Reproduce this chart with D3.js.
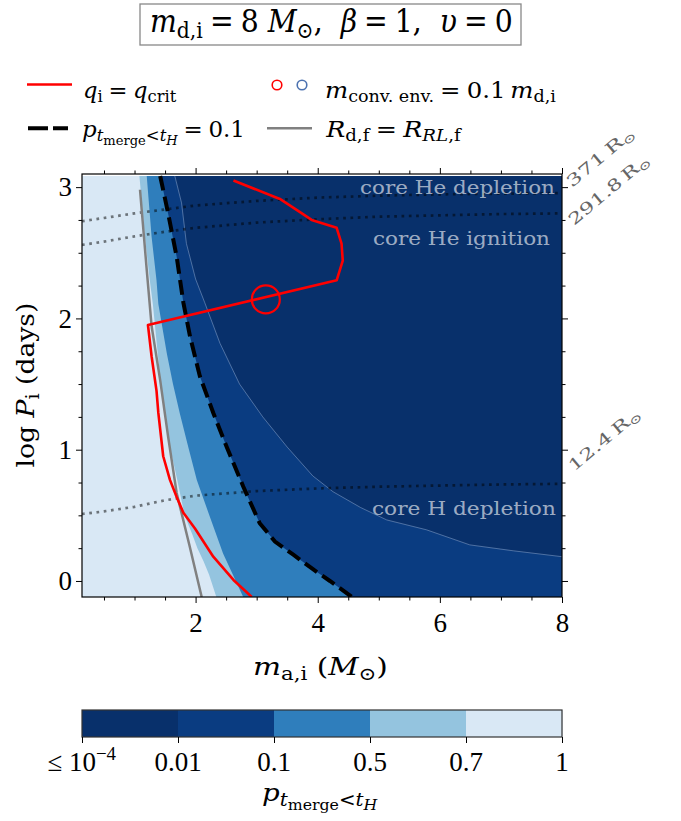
<!DOCTYPE html>
<html><head><meta charset="utf-8">
<script src="https://cdn.jsdelivr.net/npm/d3@7"></script>
<style>body{margin:0;background:#fff} svg{display:block}</style>
</head><body><svg id="c" width="681" height="821"></svg>
<script>
// ---------------- data ----------------
const xDomain = [0.14, 8];
const yDomain = [-0.122, 3.1];
const fillTopLogP = 3.085;
const xMajorTicks = [2, 4, 6, 8];
const xMinorTicks = [0.5, 1, 1.5, 2.5, 3, 3.5, 4.5, 5, 5.5, 6.5, 7, 7.5];
const yMajorTicks = [0, 1, 2, 3];
const yMinorTicks = [0.25, 0.5, 0.75, 1.25, 1.5, 1.75, 2.25, 2.5, 2.75];
const cbColors = ["#08306b", "#0a3c81", "#2f7ebc", "#94c4df", "#d9e8f5"];
const cbTickLabels = ["≤ 10^-4", "0.01", "0.1", "0.5", "0.7", "1"];
// contour boundaries [m_a,i, log P_i], from top to bottom
const boundaryP07 = [[1.08,3.085],[1.17,2.62],[1.25,2.29],[1.30,2.11],[1.44,1.45],[1.58,1.02],[1.70,0.77],[1.82,0.5],[1.95,0.35],[2.03,0.25],[2.13,0.15],[2.22,0.05],[2.34,-0.122]];
const boundaryP05 = [[1.20,3.085],[1.28,2.62],[1.36,2.29],[1.39,2.11],[1.53,1.73],[1.63,1.50],[1.74,1.28],[1.88,1.02],[2.02,0.77],[2.21,0.52],[2.45,0.21],[2.78,-0.122]];
const boundaryP01 = [[1.42,3.085],[1.45,3.02],[1.55,2.80],[1.69,2.47],[1.80,2.12],[1.91,1.86],[2.07,1.56],[2.29,1.28],[2.51,1.02],[2.78,0.72],[3.05,0.44],[3.30,0.30],[3.60,0.20],[3.95,0.08],[4.2,0.0],[4.56,-0.122]];
const boundaryP001 = [[1.66,3.085],[1.77,2.88],[1.85,2.57],[2.0,2.3],[2.15,2.12],[2.40,1.81],[2.72,1.50],[3.10,1.25],[3.50,1.02],[3.92,0.80],[4.25,0.68],[4.70,0.56],[5.13,0.465],[5.78,0.39],[6.49,0.275],[7.20,0.23],[8.0,0.185]];
const qCritLine = [[2.62,3.05],[3.38,2.91],[3.71,2.81],[3.90,2.75],[4.31,2.69],[4.39,2.57],[4.41,2.44],[4.31,2.29],[1.22,1.95],[1.28,1.71],[1.36,1.45],[1.39,1.28],[1.47,0.95],[1.58,0.77],[1.69,0.64],[1.80,0.52],[1.99,0.40],[2.29,0.185],[2.62,0.008],[2.92,-0.122]];
const convEnvMarker = [3.15, 2.145];
const rocheFillLine = [[1.09,2.98],[1.20,2.37],[1.28,1.94],[1.42,1.53],[1.55,1.1],[1.69,0.67],[1.9,0.27],[2.10,-0.122]];
const radius371 = [[0.14,2.74],[0.5,2.765],[1,2.80],[1.5,2.83],[2,2.86],[3,2.895],[4,2.92],[5,2.935],[6,2.945],[7,2.95],[8,2.955]];
const radius291 = [[0.14,2.56],[0.5,2.585],[1,2.625],[1.5,2.66],[2,2.69],[3,2.73],[4,2.755],[5,2.775],[6,2.785],[7,2.795],[8,2.80]];
const radius12 = [[0.14,0.51],[0.5,0.53],[1,0.565],[1.5,0.615],[2,0.65],[3,0.685],[4,0.705],[5,0.718],[6,0.727],[7,0.735],[8,0.74]];
const radiusLabels = ["371", "291.8", "12.4"];
const phaseLabels = ["core He depletion", "core He ignition", "core H depletion"];

// ---------------- drawing ----------------
const FONT = "'DejaVu Serif', 'Liberation Serif', serif";
const NUMFONT = "'Liberation Serif', 'DejaVu Serif', serif";
const svg = d3.select("#c");
const x = d3.scaleLinear().domain(xDomain).range([82, 562]);
const y = d3.scaleLinear().domain(yDomain).range([597, 174]);
const line = d3.line().x(d => x(d[0])).y(d => y(d[1]));
const poly = pts => line(pts) + "Z";
const [xmin, xmax] = xDomain, ymin = yDomain[0];

svg.append("clipPath").attr("id", "clip").append("rect")
  .attr("x", x(xmin)).attr("y", y(yDomain[1])).attr("width", x(xmax) - x(xmin)).attr("height", y(ymin) - y(yDomain[1]));
const g = svg.append("g").attr("clip-path", "url(#clip)");

g.append("path").attr("d", poly([[xmin,fillTopLogP],[xmax,fillTopLogP],[xmax,ymin],[xmin,ymin]])).attr("fill", cbColors[4]);
[[boundaryP07,3],[boundaryP05,2],[boundaryP01,1]].forEach(([b, ci]) => {
  g.append("path").attr("d", poly([...b, [xmax,ymin], [xmax,fillTopLogP]])).attr("fill", cbColors[ci]);
});
g.append("path").attr("d", poly([...boundaryP001, [xmax,fillTopLogP]])).attr("fill", cbColors[0]);
g.append("path").attr("d", line(boundaryP001)).attr("fill", "none").attr("stroke", "#9db3d8").attr("stroke-width", 0.6).attr("opacity", 0.8);

[radius371, radius291, radius12].forEach(r => {
  g.append("path").attr("d", line(r)).attr("fill", "none").attr("stroke", "#000").attr("stroke-opacity", 0.5)
    .attr("stroke-width", 2.7).attr("stroke-dasharray", "2.7,4.6");
});
g.append("path").attr("d", line(rocheFillLine)).attr("fill", "none").attr("stroke", "#808080").attr("stroke-width", 2.5);
g.append("path").attr("d", line(boundaryP01)).attr("fill", "none").attr("stroke", "#000").attr("stroke-width", 4).attr("stroke-dasharray", "14.8,6.4");
g.append("path").attr("d", line(qCritLine)).attr("fill", "none").attr("stroke", "#ff0000").attr("stroke-width", 2.6).attr("stroke-linejoin", "round");
g.append("circle").attr("cx", x(convEnvMarker[0])).attr("cy", y(convEnvMarker[1])).attr("r", 14)
  .attr("fill", "none").attr("stroke", "#ff0000").attr("stroke-width", 2.2);

// rich text helper: fits to a target width by horizontal scaling
const LV = {0:{s:1,sh:0}, 1:{s:0.72,sh:0.2}, 2:{s:0.57,sh:0.36}, "-1":{s:0.7,sh:-0.4}};
function rich(parent, segs, fs, px, py, opts = {}) {
  const grp = parent.append("g");
  const t = grp.append("text").attr("font-family", opts.font || FONT).attr("font-size", fs)
    .attr("fill", opts.fill || "#000").style("white-space", "pre");
  if (opts.opacity != null) t.attr("fill-opacity", opts.opacity);
  let prev = 0;
  segs.forEach(sg => {
    const L = LV[sg.l || 0];
    const shift = L.sh * fs;
    t.append("tspan").text(sg.t).attr("font-size", fs * L.s)
      .attr("font-style", sg.i ? "italic" : "normal").attr("dy", shift - prev);
    prev = shift;
  });
  const bb = t.node().getBBox();
  const s = opts.width ? opts.width / bb.width : 1;
  const off = opts.anchor === "middle" ? bb.x + bb.width / 2 : opts.anchor === "end" ? bb.x + bb.width : bb.x;
  grp.attr("transform", `translate(${px},${py}) rotate(${opts.rotate || 0}) scale(${s},1) translate(${-off},0)`);
  return grp;
}
const T = (t, i = false, l = 0) => ({t, i, l});
const EQ = "\u2005=\u2005";

// phase labels
rich(svg, [T(phaseLabels[0])], 19, 555, 194, {width: 195, anchor: "end", fill: "#fff", opacity: 0.62});
rich(svg, [T(phaseLabels[1])], 19, 550, 245, {width: 177, anchor: "end", fill: "#fff", opacity: 0.62});
rich(svg, [T(phaseLabels[2])], 19, 556, 515, {width: 184, anchor: "end", fill: "#fff", opacity: 0.62});

// border
svg.append("rect").attr("x", x(xmin)).attr("y", y(yDomain[1])).attr("width", x(xmax) - x(xmin)).attr("height", y(ymin) - y(yDomain[1]))
  .attr("fill", "none").attr("stroke", "#000").attr("stroke-width", 1.2);

// axes
function styleAxis(sel) {
  sel.select(".domain").remove();
  sel.selectAll("line").attr("stroke", "#000").attr("stroke-width", 1);
  sel.selectAll("text").attr("font-family", NUMFONT).attr("font-size", 27).attr("fill", "#000");
}
svg.append("g").attr("transform", `translate(0,${y(ymin)})`).call(d3.axisBottom(x).tickValues(xMajorTicks).tickSize(6).tickPadding(10).tickFormat(d3.format("d"))).call(styleAxis);
svg.append("g").attr("transform", `translate(0,${y(ymin)})`).call(d3.axisBottom(x).tickValues(xMinorTicks).tickSize(3.5).tickFormat("")).call(styleAxis);
svg.append("g").attr("transform", `translate(0,${y(yDomain[1])})`).call(d3.axisTop(x).tickValues(xMajorTicks).tickSize(6).tickFormat("")).call(styleAxis);
svg.append("g").attr("transform", `translate(0,${y(yDomain[1])})`).call(d3.axisTop(x).tickValues(xMinorTicks).tickSize(3.5).tickFormat("")).call(styleAxis);
svg.append("g").attr("transform", `translate(${x(xmin)},0)`).call(d3.axisLeft(y).tickValues(yMajorTicks).tickSize(6).tickPadding(4).tickFormat(d3.format("d"))).call(styleAxis);
svg.append("g").attr("transform", `translate(${x(xmin)},0)`).call(d3.axisLeft(y).tickValues(yMinorTicks).tickSize(3.5).tickFormat("")).call(styleAxis);
svg.append("g").attr("transform", `translate(${x(xmax)},0)`).call(d3.axisRight(y).tickValues(yMajorTicks).tickSize(6).tickFormat("")).call(styleAxis);
svg.append("g").attr("transform", `translate(${x(xmax)},0)`).call(d3.axisRight(y).tickValues(yMinorTicks).tickSize(3.5).tickFormat("")).call(styleAxis);

// axis labels
rich(svg, [T("m",true), T("a,i",false,1), T(" (",false), T("M",true), T("⊙",false,1), T(")",false)], 25, 253, 675, {width: 135});
rich(svg, [T("log ",false), T("P",true), T("i",false,1), T(" (days)",false)], 25, 34, 385, {width: 165, anchor: "middle", rotate: -90});

// radius labels
const radPos = [[572,188,83],[574,226,100],[574,472,88]];
radiusLabels.forEach((lab, i) => {
  const [px, py, w] = radPos[i];
  rich(svg, [T(lab + "\u2009R"), T("⊙",false,1)], 16, px, py, {width: w, rotate: -40, fill: "#666"});
});

// title
svg.append("rect").attr("x", 140).attr("y", 4).attr("width", 381).attr("height", 41).attr("fill", "#fff").attr("stroke", "#888").attr("stroke-width", 1.3);
rich(svg, [T("m",true), T("d,i",false,1), T(EQ + "8 "), T("M",true), T("⊙",false,1), T(",  "), T("β",true), T(EQ + "1,  "), T("υ",true), T(EQ + "0")], 31, 150, 32, {width: 363});

// legend
svg.append("line").attr("x1", 27).attr("x2", 72).attr("y1", 84.5).attr("y2", 84.5).attr("stroke", "#ff0000").attr("stroke-width", 2.6);
rich(svg, [T("q",true), T("i",false,1), T(EQ), T("q",true), T("crit",false,1)], 22, 83, 98, {width: 94});
svg.append("circle").attr("cx", 277).attr("cy", 85).attr("r", 4.8).attr("fill", "none").attr("stroke", "#ff0000").attr("stroke-width", 1.6);
svg.append("circle").attr("cx", 302).attr("cy", 85).attr("r", 4.8).attr("fill", "none").attr("stroke", "#4c72b0").attr("stroke-width", 1.6);
rich(svg, [T("m",true), T("conv. env.",false,1), T(EQ + "0.1\u2009"), T("m",true), T("d,i",false,1)], 22, 325, 98, {width: 231});
svg.append("line").attr("x1", 28).attr("x2", 68).attr("y1", 128.3).attr("y2", 128.3).attr("stroke", "#000").attr("stroke-width", 4).attr("stroke-dasharray", "20,5");
const pSegs = [T("p",true), T("t",true,1), T("merge",false,2), T("<",false,1), T("t",true,1), T("H",true,2)];
rich(svg, [...pSegs, T(EQ + "0.1")], 22, 82, 137, {width: 163});
svg.append("line").attr("x1", 267).attr("x2", 312).attr("y1", 128.3).attr("y2", 128.3).attr("stroke", "#808080").attr("stroke-width", 2.6);
rich(svg, [T("R",true), T("d,f",false,1), T(EQ), T("R",true), T("RL",true,1), T(",f",false,1)], 22, 325, 137, {width: 137});

// colorbar
const cb = d3.scaleLinear().domain([0, cbColors.length]).range([82, 562]);
const cbY = 710, cbH = 27;
svg.selectAll(".cbseg").data(cbColors).join("rect").attr("class", "cbseg")
  .attr("x", (d, i) => cb(i)).attr("y", cbY).attr("width", (d, i) => cb(i + 1) - cb(i) + 0.5).attr("height", cbH).attr("fill", d => d);
svg.append("rect").attr("x", cb(0)).attr("y", cbY).attr("width", cb(5) - cb(0)).attr("height", cbH).attr("fill", "none").attr("stroke", "#333").attr("stroke-width", 1.2);
svg.append("g").attr("transform", `translate(0,${cbY + cbH})`)
  .call(d3.axisBottom(cb).tickValues(d3.range(cbTickLabels.length)).tickSize(6).tickFormat("")).call(styleAxis);
cbTickLabels.forEach((lab, i) => {
  if (lab.includes("^")) {
    const [base, ex] = lab.split("^");
    rich(svg, [T(base), T(ex.replace("-", "−"), false, -1)], 27, cb(i), 771, {anchor: "middle", font: NUMFONT});
  } else {
    rich(svg, [T(lab)], 27, cb(i), 771, {anchor: "middle", font: NUMFONT});
  }
});
rich(svg, pSegs, 25, 262, 801, {width: 116});
</script></body></html>
